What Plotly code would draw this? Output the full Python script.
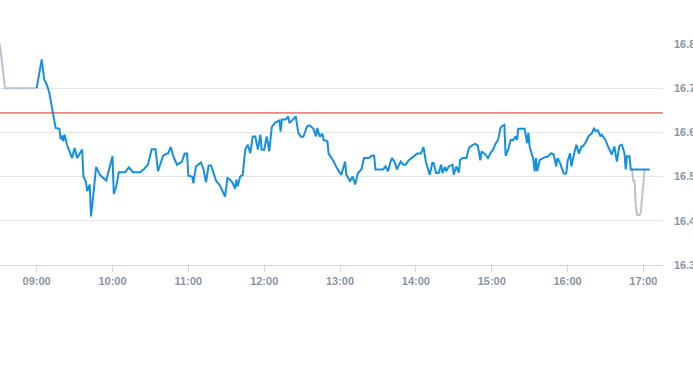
import plotly.graph_objects as go

DAY = "2024-01-01 "

# Pre-market (grey) segment
pre_times = ["08:30", "08:35", "09:00"]
pre_values = [16.82, 16.70, 16.70]

# Closing auction (grey) segment
post_times = ["16:50", "16:51", "16:52", "16:53", "16:54", "16:55", "16:57", "16:58", "16:59", "17:00", "17:01"]
post_values = [16.516, 16.516, 16.49, 16.49, 16.433, 16.413, 16.413, 16.42, 16.455, 16.49, 16.516]

# Main session (blue)
times = [
    "09:00", "09:04", "09:06", "09:08", "09:10", "09:13", "09:15", "09:18", "09:19", "09:20",
    "09:21", "09:22", "09:24", "09:26", "09:28", "09:30", "09:32", "09:36", "09:37", "09:39",
    "09:40", "09:42", "09:43", "09:45", "09:47", "09:50", "09:55", "10:00", "10:01", "10:03",
    "10:05", "10:10", "10:13", "10:16", "10:22", "10:25", "10:28", "10:31", "10:34", "10:36",
    "10:40", "10:43", "10:44", "10:46", "10:48", "10:51", "10:55", "10:57", "10:59", "11:00",
    "11:03", "11:04", "11:06", "11:10", "11:12", "11:14", "11:16", "11:18", "11:21", "11:22",
    "11:25", "11:29", "11:31", "11:33", "11:35", "11:37", "11:38", "11:39", "11:41", "11:43",
    "11:45", "11:47", "11:49", "11:51", "11:53", "11:55", "11:57", "11:58", "12:00", "12:02",
    "12:04", "12:06", "12:09", "12:12", "12:13", "12:14", "12:17", "12:19", "12:20", "12:23",
    "12:25", "12:27", "12:29", "12:31", "12:34", "12:36", "12:39", "12:41", "12:42", "12:44",
    "12:46", "12:47", "12:50", "12:51", "12:55", "12:58", "13:01", "13:04", "13:05", "13:08",
    "13:10", "13:12", "13:14", "13:17", "13:19", "13:23", "13:25", "13:27", "13:28", "13:31",
    "13:34", "13:36", "13:38", "13:40", "13:41", "13:43", "13:45", "13:46", "13:48", "13:50",
    "13:52", "13:54", "13:58", "14:01", "14:04", "14:06", "14:08", "14:10", "14:11", "14:13",
    "14:14", "14:16", "14:18", "14:20", "14:21", "14:23", "14:24", "14:26", "14:29", "14:30",
    "14:32", "14:34", "14:35", "14:37", "14:40", "14:42", "14:45", "14:47", "14:49", "14:51",
    "14:52", "14:55", "14:57", "14:59", "15:01", "15:03", "15:05", "15:07", "15:08", "15:10",
    "15:11", "15:13", "15:15", "15:17", "15:19", "15:20", "15:21", "15:24", "15:26", "15:28",
    "15:29", "15:30", "15:32", "15:33", "15:34", "15:35", "15:36", "15:38", "15:42", "15:44",
    "15:47", "15:49", "15:51", "15:52", "15:54", "15:57", "15:59", "16:00", "16:02", "16:03",
    "16:05", "16:07", "16:09", "16:11", "16:12", "16:14", "16:17", "16:19", "16:21", "16:22",
    "16:24", "16:26", "16:27", "16:30", "16:32", "16:34", "16:35", "16:37", "16:38", "16:39",
    "16:40", "16:41", "16:43", "16:45", "16:46", "16:47", "16:49", "16:50", "17:05",
]
values = [
    16.70, 16.765, 16.72, 16.708, 16.69, 16.647, 16.61, 16.608, 16.584, 16.593,
    16.58, 16.595, 16.572, 16.557, 16.542, 16.565, 16.542, 16.561, 16.50, 16.488,
    16.467, 16.482, 16.41, 16.463, 16.522, 16.504, 16.491, 16.546, 16.461, 16.478,
    16.51, 16.51, 16.521, 16.51, 16.51, 16.517, 16.527, 16.562, 16.562, 16.512,
    16.547, 16.552, 16.552, 16.567, 16.547, 16.527, 16.534, 16.552, 16.552, 16.502,
    16.50, 16.485, 16.523, 16.532, 16.516, 16.487, 16.525, 16.525, 16.50, 16.49,
    16.48, 16.455, 16.497, 16.493, 16.486, 16.472, 16.493, 16.478, 16.50, 16.504,
    16.561, 16.572, 16.553, 16.591, 16.591, 16.561, 16.595, 16.561, 16.561, 16.591,
    16.557, 16.612, 16.623, 16.627, 16.602, 16.629, 16.629, 16.636, 16.621, 16.629,
    16.636, 16.599, 16.59, 16.59, 16.614, 16.616, 16.608, 16.591, 16.61, 16.59,
    16.597, 16.583, 16.58, 16.552, 16.534, 16.517, 16.504, 16.534, 16.504, 16.49,
    16.50, 16.482, 16.507, 16.517, 16.542, 16.542, 16.547, 16.547, 16.516, 16.516,
    16.516, 16.523, 16.512, 16.534, 16.542, 16.534, 16.516, 16.523, 16.534, 16.527,
    16.527, 16.536, 16.546, 16.552, 16.552, 16.567, 16.532, 16.512, 16.504, 16.531,
    16.531, 16.508, 16.508, 16.527, 16.508, 16.522, 16.512, 16.523, 16.527, 16.504,
    16.523, 16.509, 16.538, 16.542, 16.542, 16.565, 16.572, 16.574, 16.57, 16.537,
    16.557, 16.55, 16.542, 16.553, 16.561, 16.574, 16.583, 16.61, 16.614, 16.617,
    16.547, 16.561, 16.583, 16.583, 16.591, 16.583, 16.608, 16.608, 16.608, 16.576,
    16.599, 16.568, 16.547, 16.538, 16.512, 16.542, 16.512, 16.538, 16.544, 16.545,
    16.553, 16.55, 16.523, 16.542, 16.531, 16.507, 16.507, 16.534, 16.553, 16.523,
    16.55, 16.572, 16.552, 16.568, 16.568, 16.576, 16.593, 16.597, 16.61, 16.603,
    16.605, 16.591, 16.595, 16.583, 16.568, 16.557, 16.55, 16.568, 16.547, 16.534,
    16.553, 16.57, 16.572, 16.553, 16.516, 16.546, 16.546, 16.516, 16.516,
]

prev_close = 16.644
y_ticks = [16.3, 16.4, 16.5, 16.6, 16.7, 16.8]
x_ticks = ["09:00", "10:00", "11:00", "12:00", "13:00", "14:00", "15:00", "16:00", "17:00"]

GREY = "#b9c3cc"
BLUE = "#1590e0"
LABEL = "#8a95a2"

fig = go.Figure()
fig.add_trace(go.Scatter(x=[DAY + t for t in pre_times], y=pre_values, mode="lines",
                         line=dict(color=GREY, width=2), hoverinfo="skip"))
fig.add_trace(go.Scatter(x=[DAY + t for t in post_times], y=post_values, mode="lines",
                         line=dict(color=GREY, width=2), hoverinfo="skip"))
fig.add_trace(go.Scatter(x=[DAY + t for t in times], y=values, mode="lines",
                         line=dict(color=BLUE, width=2)))
fig.add_hline(y=prev_close, line=dict(color="#d42e26", width=1))

fig.update_layout(
    width=693, height=365,
    margin=dict(l=0, r=30, t=44, b=100, autoexpand=False),
    paper_bgcolor="white", plot_bgcolor="white",
    showlegend=False,
    font=dict(family="Liberation Sans, Arial, sans-serif", size=11, color=LABEL),
)
fig.update_xaxes(
    type="date", automargin=False,
    range=[DAY + "08:31", DAY + "17:15:30"],
    tickvals=[DAY + t for t in x_ticks], ticktext=x_ticks,
    showgrid=False, showline=True, linecolor="#ccd6eb", linewidth=1,
    ticks="outside", ticklen=6, tickcolor="#ccd6eb",
    tickfont=dict(size=11, color=LABEL, weight="bold"),
    zeroline=False,
)
fig.update_yaxes(
    range=[16.3, 16.8], side="right", automargin=False,
    tickvals=y_ticks, ticktext=[f"{v:.1f}" for v in y_ticks],
    showgrid=True, gridcolor="#e6e6e6", gridwidth=1,
    showline=False, zeroline=False, ticks="", ticklabelstandoff=10,
    ticklabeloverflow="allow",
    tickfont=dict(size=11, color=LABEL, weight="bold"),
)

fig.write_html(
    "out.html",
    config={"displayModeBar": False},
    post_script="document.body.style.margin='0';document.body.style.overflow='hidden';",
)
